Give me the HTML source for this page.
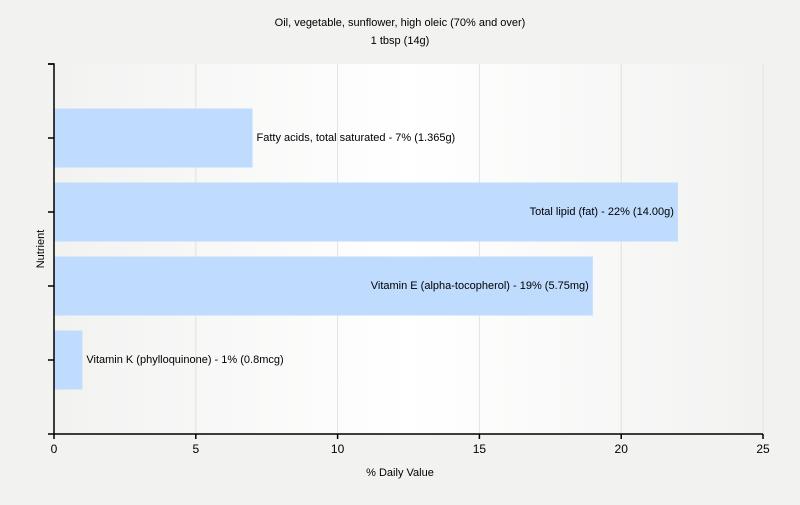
<!DOCTYPE html>
<html><head><meta charset="utf-8"><style>
body{margin:0;background:#f2f2f1;font-family:"Liberation Sans",sans-serif;}
svg text{font-family:"Liberation Sans",sans-serif;font-size:11px;fill:#000;}
</style></head><body>
<svg width="800" height="500">
<defs><linearGradient id="bg" x1="0" x2="1" y1="0" y2="0">
<stop offset="0" stop-color="#f2f2f1"/><stop offset="0.5" stop-color="#ffffff"/><stop offset="1" stop-color="#f2f2f1"/></linearGradient></defs>
<rect x="0" y="0" width="800" height="500" fill="#f2f2f1"/>
<text x="400" y="26" text-anchor="middle">Oil, vegetable, sunflower, high oleic (70% and over)</text>
<text x="400" y="44" text-anchor="middle">1 tbsp (14g)</text>
<rect x="54" y="64" width="709" height="370" fill="url(#bg)"/>
<g id="grid"></g><g id="bars"></g><g id="axes"></g>
<text x="400" y="476" text-anchor="middle">% Daily Value</text>
<text transform="translate(44,249) rotate(-90)" text-anchor="middle">Nutrient</text>
</svg>
<script>
const categories=["Fatty acids, total saturated","Total lipid (fat)","Vitamin E (alpha-tocopherol)","Vitamin K (phylloquinone)"];
const values=[7,22,19,1];
const labels=["Fatty acids, total saturated - 7% (1.365g)","Total lipid (fat) - 22% (14.00g)","Vitamin E (alpha-tocopherol) - 19% (5.75mg)","Vitamin K (phylloquinone) - 1% (0.8mcg)"];
const xTicks=[0,5,10,15,20,25];
const NS="http://www.w3.org/2000/svg";
const X0=54,X1=763,Y0=64,Y1=434,XMAX=25,SLOTS=5;
const band=(Y1-Y0)/SLOTS;
const x=v=>X0+(X1-X0)*v/XMAX;
const y=i=>Y0+band*(i+1);
function mk(t,a,p){const e=document.createElementNS(NS,t);for(const k in a)e.setAttribute(k,a[k]);document.getElementById(p).appendChild(e);return e;}
xTicks.forEach(t=>{if(t>0){const g=mk('line',{x1:x(t),x2:x(t),y1:Y0,y2:Y1,stroke:'#e2e2e2'},'grid');

}});
values.forEach((v,i)=>{
const r=mk('rect',{x:X0,y:y(i)-band/2+7.5,width:x(v)-X0,height:band-15,fill:'#bfdbfe'},'bars');


const w=x(v)-X0, inside=w>300;
const t=mk('text',{x:inside?x(v)-4:x(v)+4,y:y(i)+3,'text-anchor':inside?'end':'start'},'bars');
t.textContent=labels[i];


});
const ax=mk('path',{d:`M${X0-6},${Y0}H${X0}V${Y1}H${X1}`,stroke:'#000',fill:'none','stroke-width':1.5},'axes');


for(let i=0;i<=SLOTS;i++){const l=mk('line',{x1:X0-6,x2:X0,y1:Y0+band*i,y2:Y0+band*i,stroke:'#000','stroke-width':1.5},'axes');

}
xTicks.forEach(t=>{const l=mk('line',{x1:x(t),x2:x(t),y1:Y1,y2:Y1+5,stroke:'#000','stroke-width':1.5},'axes');


const tx=mk('text',{x:x(t),y:Y1+19,'text-anchor':'middle'},'axes');
tx.style.fontSize='12px';
tx.textContent=t;

});
</script>
</body></html>
